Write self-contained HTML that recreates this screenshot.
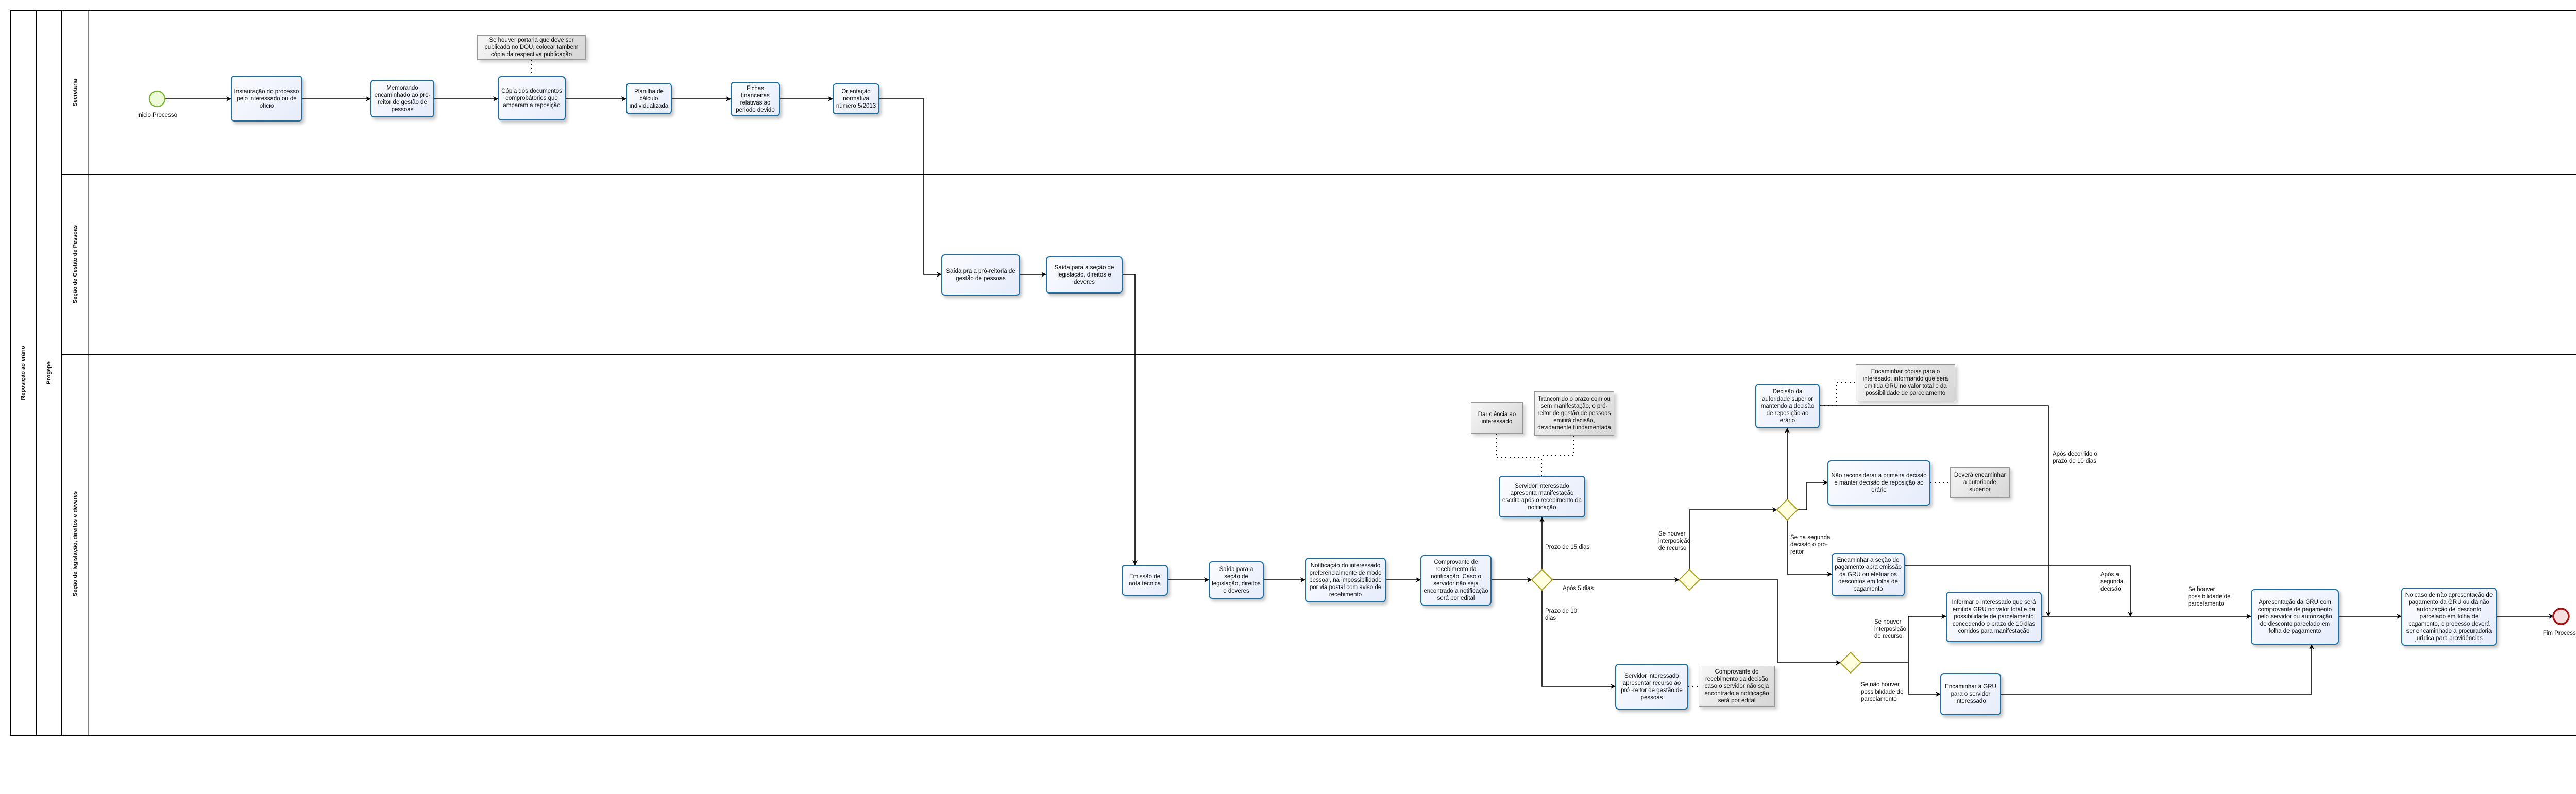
<!DOCTYPE html>
<html><head><meta charset="utf-8">
<style>
html,body{margin:0;padding:0;background:#fff;overflow:hidden;}
#c{position:relative;width:5293px;height:1542px;overflow:hidden;font-family:"Liberation Sans Narrow","Liberation Sans",sans-serif;font-size:11.5px;color:#111;}
svg{position:absolute;left:0;top:0;}
.t{position:absolute;box-sizing:border-box;border:2px solid #1c6ea4;border-radius:7px;background:linear-gradient(135deg,#fbfcff,#e6ecfb);box-shadow:4px 5px 6px rgba(0,0,0,0.22);display:flex;align-items:center;justify-content:center;text-align:center;line-height:14px;padding:2px 4px;overflow:hidden;}
.a{position:absolute;box-sizing:border-box;border:1px solid #999;background:linear-gradient(135deg,#f6f6f6,#d6d6d6);box-shadow:5px 5px 6px rgba(0,0,0,0.18);display:flex;align-items:center;justify-content:center;text-align:center;line-height:14px;padding:2px 4px;overflow:hidden;}
.l{position:absolute;line-height:14px;white-space:nowrap;}
.v{position:absolute;transform:translate(-50%,-50%) rotate(-90deg);white-space:nowrap;font-weight:bold;font-family:"Liberation Sans",sans-serif;font-size:11px;}
</style></head><body><div id="c">
<svg width="5293" height="1542" xmlns="http://www.w3.org/2000/svg">
<defs><marker id="ar" markerWidth="10" markerHeight="10" refX="9" refY="5" orient="auto" markerUnits="userSpaceOnUse"><path d="M0,0 L10,5 L0,10 L3,5 Z" fill="#000"/></marker></defs>
<g fill="none" stroke="#000" stroke-width="2">
<rect x="21" y="20" width="5260" height="1409"/>
<line x1="70" y1="20" x2="70" y2="1429"/>
<line x1="120" y1="20" x2="120" y2="1429"/>
<line x1="171" y1="20" x2="171" y2="1429" stroke-width="1"/>
<line x1="120" y1="338" x2="5281" y2="338"/>
<line x1="120" y1="689" x2="5281" y2="689"/>
</g>
<g fill="none" stroke="#000" stroke-width="1.6" marker-end="url(#ar)">
<path d="M320,192 H448"/>
<path d="M587,192 H719"/>
<path d="M843,192 H966"/>
<path d="M1098,192 H1215"/>
<path d="M1304,192 H1418"/>
<path d="M1514,192 H1616"/>
<path d="M1707,192 H1793 V533 H1827"/>
<path d="M1980,533 H2030"/>
<path d="M2179,533 H2203 V1097"/>
<path d="M2267,1126 H2346"/>
<path d="M2453,1126 H2533"/>
<path d="M2690,1126 H2757"/>
<path d="M2895,1126 H2973"/>
<path d="M2993,1106 V1005"/>
<path d="M3013,1126 H3259"/>
<path d="M2993,1146 V1333 H3135"/>
<path d="M3279,1106 V990 H3449"/>
<path d="M3299,1126 H3451 V1287 H3572"/>
<path d="M3469,970 V832"/>
<path d="M3489,990 H3507 V937 H3547"/>
<path d="M3469,1010 V1115 H3555"/>
<path d="M3532,788 H3976 V1197"/>
<path d="M3697,1099 H4135 V1197"/>
<path d="M3612,1287 H3704 V1197 H3777"/>
<path d="M3704,1287 V1348 H3766"/>
<path d="M3963,1197 H4369"/>
<path d="M3884,1348 H4487 V1252"/>
<path d="M4540,1197 H4661"/>
<path d="M4846,1197 H4956"/>
</g>
<g fill="none" stroke="#000" stroke-width="2" stroke-dasharray="2,6">
<path d="M1032,116 V148"/>
<path d="M2905,842 V889 H2992 V924"/>
<path d="M3054,846 V885 H2992"/>
<path d="M3277,1333 H3297"/>
<path d="M3532,788 H3565 V742 H3602"/>
<path d="M3747,937 H3785"/>
</g>
<g fill="#ffffe0" stroke="#a8a020" stroke-width="2">
<path d="M2993,1106 L3013,1126 L2993,1146 L2973,1126 Z"/>
<path d="M3279,1106 L3299,1126 L3279,1146 L3259,1126 Z"/>
<path d="M3469,970 L3489,990 L3469,1010 L3449,990 Z"/>
<path d="M3592,1267 L3612,1287 L3592,1307 L3572,1287 Z"/>
</g>
<circle cx="305" cy="192" r="15" fill="#eefad8" stroke="#7ab53a" stroke-width="2.5"/>
<circle cx="4971" cy="1197" r="15" fill="#f6dede" stroke="#a31515" stroke-width="3.5"/>
<text x="5265" y="1501" font-size="8" fill="#999" text-anchor="end" font-family="Liberation Sans, sans-serif">Powered by</text>
<text x="5190" y="1521" font-size="22" fill="#f4b77a" font-weight="bold" font-family="Liberation Sans, sans-serif">bizagi</text>
<text x="5190" y="1532" font-size="8" fill="#999" font-family="Liberation Sans, sans-serif">Modeler</text>
</svg>

<div class="v" style="left:45px;top:724px;">Reposição ao erário</div>
<div class="v" style="left:95px;top:724px;">Progepe</div>
<div class="v" style="left:146px;top:180px;">Secretaria</div>
<div class="v" style="left:146px;top:513px;">Seção de Gestão de Pessoas</div>
<div class="v" style="left:146px;top:1056px;">Seção de legislação, direitos e  deveres</div>

<div class="l" style="left:265px;top:217px;width:80px;text-align:center;">Inicio Processo</div>
<div class="l" style="left:4930px;top:1223px;width:82px;text-align:center;">Fim Processo</div>

<div class="t" style="left:448px;top:147px;width:139px;height:89px;">Instauração do processo pelo interessado ou de ofício</div>
<div class="t" style="left:719px;top:155px;width:124px;height:73px;">Memorando encaminhado ao pro-reitor de gestão de pessoas</div>
<div class="t" style="left:966px;top:148px;width:132px;height:86px;">Cópia dos documentos comprobátorios que amparam a reposição</div>
<div class="t" style="left:1215px;top:161px;width:89px;height:61px;">Planilha de cálculo individualizada</div>
<div class="t" style="left:1418px;top:159px;width:96px;height:67px;">Fichas financeiras relativas ao periodo devido</div>
<div class="t" style="left:1616px;top:162px;width:91px;height:60px;">Orientação normativa número 5/2013</div>
<div class="a" style="left:926px;top:68px;width:211px;height:48px;">Se houver portaria que deve ser publicada no DOU, colocar tambem cópia da respectiva publicação</div>

<div class="t" style="left:1827px;top:494px;width:153px;height:80px;">Saída pra a pró-reitoria de gestão de pessoas</div>
<div class="t" style="left:2030px;top:498px;width:149px;height:72px;">Saída para a seção de legislação, direitos e deveres</div>

<div class="t" style="left:2177px;top:1097px;width:90px;height:60px;">Emissão de nota técnica</div>
<div class="t" style="left:2346px;top:1090px;width:107px;height:73px;">Saída para a seção de legislação, direitos e  deveres</div>
<div class="t" style="left:2533px;top:1083px;width:157px;height:87px;">Notificação do interessado preferencialmente de modo pessoal, na impossibilidade por via postal com aviso de recebimento</div>
<div class="t" style="left:2757px;top:1078px;width:138px;height:98px;">Comprovante de recebimento da notificação. Caso o servidor não seja encontrado a notificação será por edital</div>
<div class="t" style="left:2909px;top:924px;width:168px;height:81px;">Servidor interessado apresenta manifestação escrita após o recebimento da notificação</div>
<div class="a" style="left:2855px;top:781px;width:101px;height:61px;">Dar ciência ao interessado</div>
<div class="a" style="left:2978px;top:760px;width:155px;height:86px;">Trancorrido o prazo com ou sem manifestação, o pró-reitor de gestão de pessoas emitirá decisão, devidamente fundamentada</div>
<div class="t" style="left:3135px;top:1289px;width:142px;height:89px;">Servidor interessado apresentar recurso ao pró -reitor de gestão de pessoas</div>
<div class="a" style="left:3297px;top:1293px;width:148px;height:80px;">Comprovante do recebimento da decisão caso o servidor não seja encontrado a notificação será por edital</div>
<div class="t" style="left:3407px;top:745px;width:125px;height:87px;">Decisão da autoridade superior mantendo a decisão de reposição ao erário</div>
<div class="a" style="left:3602px;top:707px;width:193px;height:72px;">Encaminhar cópias para o interesado, informando que será emitida GRU no valor total e da possibilidade de parcelamento</div>
<div class="t" style="left:3547px;top:894px;width:200px;height:88px;">Não reconsiderar a primeira decisão e manter decisão de reposição ao erário</div>
<div class="a" style="left:3785px;top:907px;width:116px;height:60px;">Deverá encaminhar a autoridade superior</div>
<div class="t" style="left:3555px;top:1074px;width:142px;height:84px;">Encaminhar a seção de pagamento apra emissão da GRU ou efetuar os descontos em folha de pagamento</div>
<div class="t" style="left:3777px;top:1149px;width:186px;height:98px;">Informar o interessado que será emitida GRU no valor total e da possibilidade de parcelamento concedendo o prazo de 10 dias corridos para manifestação</div>
<div class="t" style="left:3766px;top:1307px;width:118px;height:82px;">Encaminhar a GRU para o servidor interessado</div>
<div class="t" style="left:4369px;top:1144px;width:171px;height:108px;">Apresentação da GRU com comprovante de pagamento pelo servidor ou autorização de desconto parcelado em folha de pagamento</div>
<div class="t" style="left:4661px;top:1141px;width:185px;height:113px;">No caso de não apresentação de pagamento da GRU ou da não autorização de desconto parcelado em folha de pagamento, o processo deverá ser encaminhado a procuradoria juridica para providências</div>

<div class="l" style="left:2999px;top:1056px;">Prozo de 15 dias</div>
<div class="l" style="left:3033px;top:1136px;">Após 5 dias</div>
<div class="l" style="left:2999px;top:1180px;">Prazo de 10<br>dias</div>
<div class="l" style="left:3219px;top:1030px;">Se houver<br>interposição<br>de recurso</div>
<div class="l" style="left:3475px;top:1037px;">Se na segunda<br>decisão o pro-<br>reitor</div>
<div class="l" style="left:3984px;top:875px;">Após decorrido o<br>prazo de 10 dias</div>
<div class="l" style="left:3638px;top:1201px;">Se houver<br>interposição<br>de recurso</div>
<div class="l" style="left:3612px;top:1323px;">Se não houver<br>possibilidade de<br>parcelamento</div>
<div class="l" style="left:4077px;top:1109px;">Após a<br>segunda<br>decisão</div>
<div class="l" style="left:4247px;top:1138px;">Se houver<br>possibilidade de<br>parcelamento</div>
</div></body></html>
